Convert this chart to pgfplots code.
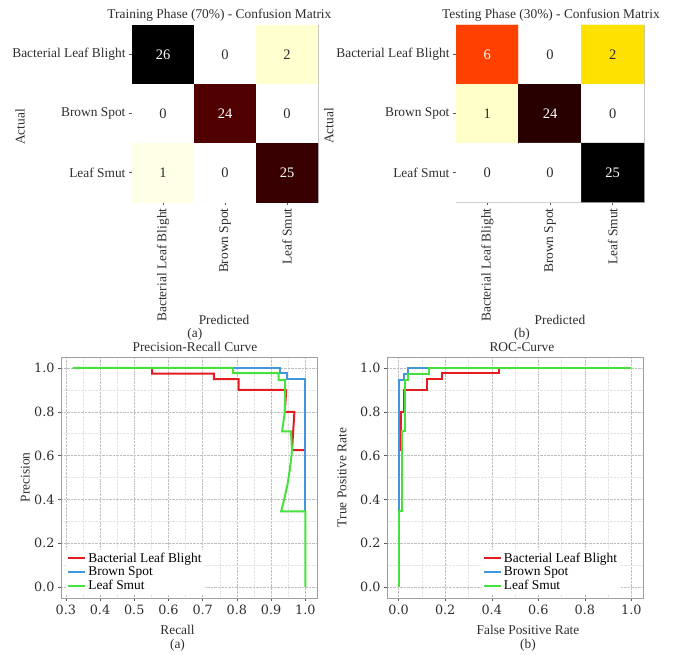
\documentclass[border=0pt]{standalone}
\usepackage{fontspec}
\setmainfont{Liberation Serif}
\newfontfamily\dejavu{DejaVu Serif}
\usepackage{pgfplots}
\pgfplotsset{compat=1.18}
\definecolor{cred}{RGB}{228,28,32}
\definecolor{cblue}{RGB}{65,150,220}
\definecolor{cgreen}{RGB}{70,225,60}
\definecolor{txt}{RGB}{45,45,45}
\newcommand\fs{\fontsize{13.4}{14.5}\selectfont}
\newcommand\fn{\dejavu\fontsize{12.8}{13}\selectfont}
\newcommand\fc{\fontsize{14.5}{14.5}\selectfont}

\pgfplotsset{
  cmstyle/.style={
    scale only axis, enlargelimits=false,
    xmin=-0.5, xmax=2.5, ymin=-0.5, ymax=2.5, y dir=reverse,
    xtick={0,1,2}, ytick={0,1,2},
    xticklabels={Bacterial Leaf Blight,Brown Spot,Leaf Smut},
    yticklabels={Bacterial Leaf Blight,Brown Spot,Leaf Smut},
    xticklabel style={rotate=90, anchor=east},
    tick label style={font=\fs, text=txt},
    tick align=outside, xtick pos=left, ytick pos=left,
    major tick length=3pt, tick style={gray!70!black, thin},
    axis line style={gray!50, thin},
    title style={font=\fs, text=txt},
    label style={font=\fs, text=txt},
    width=187pt, height=177pt,
  },
  curvestyle/.style={
    scale only axis, width=256pt, height=241pt,
    ymin=-0.05, ymax=1.05, ytick={0,0.2,0.4,0.6,0.8,1.0},
    minor x tick num=1, minor y tick num=1, grid=both,
    major grid style={densely dotted, gray!50},
    minor grid style={densely dotted, gray!22},
    tick align=outside, xtick pos=left, ytick pos=left,
    major tick length=3pt, minor tick length=0pt,
    tick style={gray!70!black, thin},
    axis line style={gray!75},
    /pgf/number format/.cd, fixed, fixed zerofill, precision=1, assume math mode=true, /pgfplots/.cd,
    tick label style={font=\fn, text=txt},
    title style={font=\fs, text=txt, align=center},
    label style={font=\fs, text=txt},
    legend style={draw=none, fill=white, font=\fs, row sep=-1pt, inner sep=1pt, anchor=south west},
    legend cell align=left,
  },
  pr/.style={#1, line width=2pt, mark=none},
}

\pgfplotstableread{
x y c
0 0 26
1 0 0
2 0 2
0 1 0
1 1 24
2 1 0
0 2 1
1 2 0
2 2 25
}\trainCM

\pgfplotstableread{
x y c
0 0 6
1 0 0
2 0 2
0 1 1
1 1 24
2 1 0
0 2 0
1 2 0
2 2 25
}\testCM

\begin{document}
\begin{tikzpicture}
\useasboundingbox (0,0) rectangle (674pt,654pt);

% ---------- Training confusion matrix ----------
\begin{axis}[cmstyle, at={(132pt,452pt)}, anchor=south west, width=186pt,
  point meta min=0, point meta max=26,
  colormap={cmL}{rgb255(0pt)=(255,255,255); rgb255(1pt)=(255,255,232); rgb255(2pt)=(255,255,208); rgb255(24pt)=(80,0,0); rgb255(25pt)=(56,0,0); rgb255(26pt)=(0,0,0)},
  title={Training Phase (70\%) - Confusion Matrix},
  title style={at={(axis description cs:0.47,1.022)}, anchor=center},
  xlabel={Predicted}, xlabel style={at={(axis description cs:0.495,-0.667)}, anchor=center},
  ylabel={Actual}, ylabel style={at={(axis description cs:-0.602,0.424)}, anchor=center},
]
\addplot[matrix plot*, mesh/cols=3, point meta=explicit] table[meta=c] {\trainCM};
\addplot[only marks, mark=none, nodes near coords, point meta=explicit symbolic,
  nodes near coords style={anchor=center, font=\fc, text=white}] table[meta=v] {
x y v
0 0 26
1 1 24
2 2 25
};
\addplot[only marks, mark=none, nodes near coords, point meta=explicit symbolic,
  nodes near coords style={anchor=center, font=\fc, text=txt}] table[meta=v] {
x y v
1 0 0
2 0 2
0 1 0
2 1 0
0 2 1
1 2 0
};
\end{axis}

% ---------- Testing confusion matrix ----------
\begin{axis}[cmstyle, at={(456pt,452pt)}, anchor=south west, width=188pt,
  point meta min=0, point meta max=25,
  colormap={cmR}{rgb255(0pt)=(255,255,255); rgb255(1pt)=(255,255,200); rgb255(2pt)=(255,225,0); rgb255(6pt)=(255,64,0); rgb255(24pt)=(40,0,0); rgb255(25pt)=(0,0,0)},
  title={Testing Phase (30\%) - Confusion Matrix},
  title style={at={(axis description cs:0.505,1.022)}, anchor=center},
  xlabel={Predicted}, xlabel style={at={(axis description cs:0.553,-0.667)}, anchor=center},
  ylabel={Actual}, ylabel style={at={(axis description cs:-0.676,0.43)}, anchor=center},
]
\addplot[matrix plot*, mesh/cols=3, point meta=explicit] table[meta=c] {\testCM};
\addplot[only marks, mark=none, nodes near coords, point meta=explicit symbolic,
  nodes near coords style={anchor=center, font=\fc, text=white}] table[meta=v] {
x y v
0 0 6
1 1 24
2 2 25
};
\addplot[only marks, mark=none, nodes near coords, point meta=explicit symbolic,
  nodes near coords style={anchor=center, font=\fc, text=txt}] table[meta=v] {
x y v
1 0 0
2 0 2
0 1 1
2 1 0
0 2 0
1 2 0
};
\end{axis}

% ---------- Precision-Recall ----------
\begin{axis}[curvestyle, at={(61pt,56pt)}, anchor=south west,
  xmin=0.286, xmax=1.034, xtick={0.3,0.4,0.5,0.6,0.7,0.8,0.9,1.0},
  title={(a)\\Precision-Recall Curve},
  title style={at={(axis description cs:0.523,1.047)}, anchor=center},
  xlabel={Recall\\(a)}, xlabel style={align=center, at={(axis description cs:0.455,-0.168)}, anchor=center},
  ylabel={Precision}, ylabel style={at={(axis description cs:-0.14,0.5)}, anchor=center},
  legend style={at={(axis description cs:0.02,0.015)}},
]
\addplot[pr=cred] coordinates {
(0.552,1.0) (0.552,0.974) (0.733,0.974) (0.733,0.949) (0.805,0.949) (0.805,0.90)
(0.944,0.90) (0.940,0.80) (0.968,0.80) (0.961,0.625) (1.0,0.625)};
\addlegendentry{Bacterial Leaf Blight}
\addplot[pr=cblue] coordinates {
(0.32,1.0) (0.925,1.0) (0.925,0.975) (0.946,0.975) (0.946,0.948) (1.0,0.948) (1.0,0.345)};
\addlegendentry{Brown Spot}
\addplot[pr=cgreen] coordinates {
(0.32,1.0) (0.788,1.0) (0.788,0.976) (0.922,0.976) (0.922,0.945) (0.941,0.945)
(0.940,0.80) (0.932,0.71) (0.958,0.71) (0.961,0.625) (0.958,0.58) (0.954,0.53)
(0.948,0.47) (0.941,0.42) (0.935,0.38) (0.929,0.345) (1.0,0.345) (1.0,0.0)};
\addlegendentry{Leaf Smut}
\end{axis}

% ---------- ROC ----------
\begin{axis}[curvestyle, at={(387pt,56pt)}, anchor=south west,
  xmin=-0.05, xmax=1.05, xtick={0,0.2,0.4,0.6,0.8,1.0},
  title={(b)\\ROC-Curve},
  title style={at={(axis description cs:0.527,1.047)}, anchor=center},
  xlabel={False Positive Rate\\(b)}, xlabel style={align=center, at={(axis description cs:0.551,-0.168)}, anchor=center},
  ylabel={True Positive Rate}, ylabel style={at={(axis description cs:-0.176,0.5)}, anchor=center},
  legend style={at={(axis description cs:0.37,0.015)}},
]
\addplot[pr=cred] coordinates {
(0,0) (0,0.625) (0.01,0.625) (0.01,0.80) (0.025,0.80) (0.025,0.90) (0.12,0.90)
(0.12,0.95) (0.185,0.95) (0.185,0.975) (0.43,0.975) (0.43,1.0) (1.0,1.0)};
\addlegendentry{Bacterial Leaf Blight}
\addplot[pr=cblue] coordinates {
(0,0) (0,0.944) (0.025,0.944) (0.025,0.972) (0.04,0.972) (0.04,1.0) (1.0,1.0)};
\addlegendentry{Brown Spot}
\addplot[pr=cgreen] coordinates {
(0,0) (0,0.345) (0.013,0.345) (0.013,0.71) (0.028,0.71) (0.028,0.945) (0.04,0.945)
(0.04,0.974) (0.132,0.974) (0.132,1.0) (1.0,1.0)};
\addlegendentry{Leaf Smut}
\end{axis}
\end{tikzpicture}
\end{document}
